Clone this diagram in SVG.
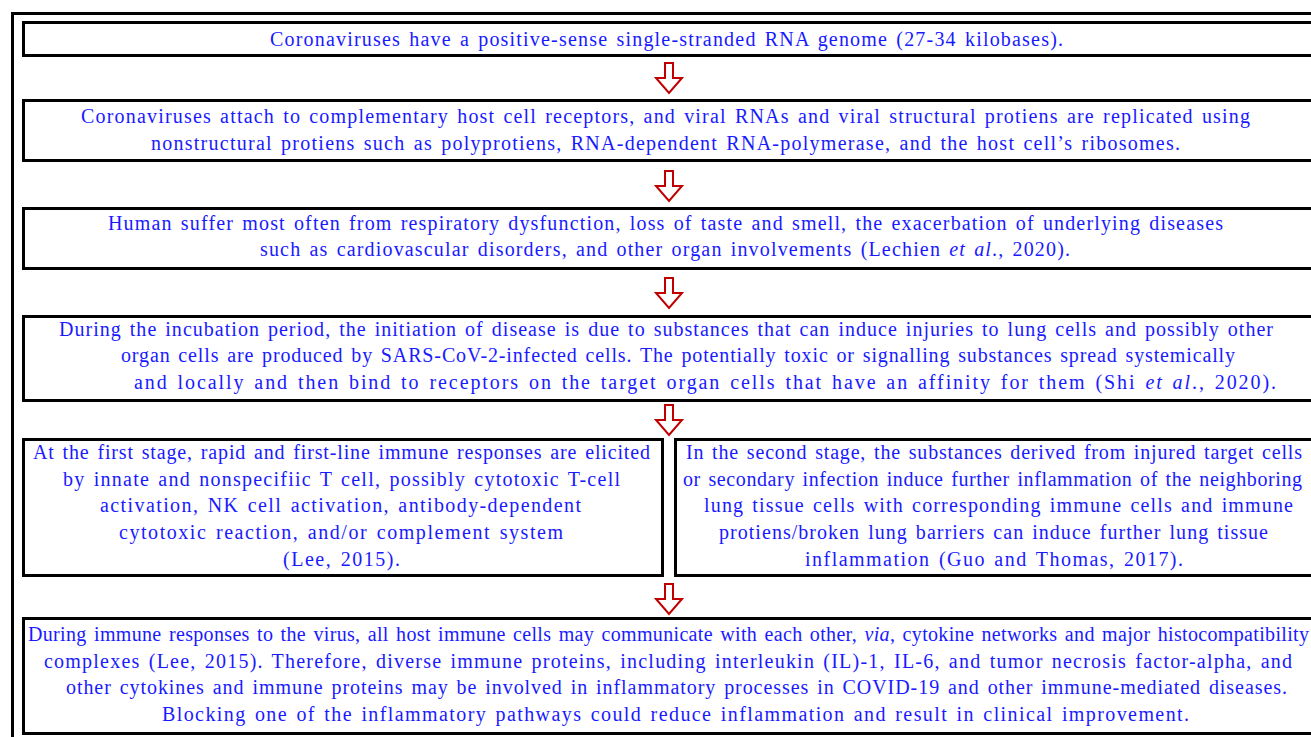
<svg xmlns="http://www.w3.org/2000/svg" width="1311" height="737" viewBox="0 0 1311 737">
<style>
.box{fill:#fff;stroke:#000;stroke-width:3}
.t{font-family:"Liberation Serif","Times New Roman",serif;font-size:20px;fill:#1a1aff;word-spacing:2px}
.i{font-style:italic}
.arr{fill:#fff;stroke:#c00000;stroke-width:2;stroke-linejoin:miter}
</style>
<defs>
<path id="dn" d="M-4,0 H4 V15 H13 L0,30 L-13,15 H-4 Z"/>
</defs>
<rect width="1311" height="737" fill="#fff"/>
<rect x="12.5" y="13.5" width="1320" height="740" fill="none" stroke="#000" stroke-width="3"/>
<g id="connectors">
<use href="#dn" x="669" y="63" class="arr"/>
<use href="#dn" x="669" y="171" class="arr"/>
<use href="#dn" x="669" y="278" class="arr"/>
<use href="#dn" x="669" y="405" class="arr"/>
<use href="#dn" x="669" y="584" class="arr"/>
</g>
<g id="n1">
<rect class="box" x="23.5" y="22.5" width="1300" height="33"/>
<text class="t" x="270" y="46" textLength="793" lengthAdjust="spacing">Coronaviruses have a positive-sense single-stranded RNA genome (27-34 kilobases).</text>
</g>
<g id="n2">
<rect class="box" x="23.5" y="100.5" width="1300" height="60"/>
<text class="t" x="81" y="123" textLength="1169" lengthAdjust="spacing">Coronaviruses attach to complementary host cell receptors, and viral RNAs and viral structural protiens are replicated using</text>
<text class="t" x="151" y="150" textLength="1029" lengthAdjust="spacing">nonstructural protiens such as polyprotiens, RNA-dependent RNA-polymerase, and the host cell’s ribosomes.</text>
</g>
<g id="n3">
<rect class="box" x="23.5" y="208.5" width="1300" height="60"/>
<text class="t" x="108" y="230" textLength="1115" lengthAdjust="spacing">Human suffer most often from respiratory dysfunction, loss of taste and smell, the exacerbation of underlying diseases</text>
<text class="t" x="260" y="256" textLength="810" lengthAdjust="spacing">such as cardiovascular disorders, and other organ involvements (Lechien <tspan class="i">et al</tspan>., 2020).</text>
</g>
<g id="n4">
<rect class="box" x="23.5" y="316.5" width="1300" height="84"/>
<text class="t" x="59" y="336" textLength="1214" lengthAdjust="spacing">During the incubation period, the initiation of disease is due to substances that can induce injuries to lung cells and possibly other</text>
<text class="t" x="121" y="362" textLength="1114" lengthAdjust="spacing">organ cells are produced by SARS-CoV-2-infected cells. The potentially toxic or signalling substances spread systemically</text>
<text class="t" x="134" y="389" textLength="1142" lengthAdjust="spacing">and locally and then bind to receptors on the target organ cells that have an affinity for them (Shi <tspan class="i">et al</tspan>., 2020).</text>
</g>
<g id="n5a">
<rect class="box" x="23.5" y="439.5" width="639" height="136"/>
<text class="t" x="33" y="459" textLength="617" lengthAdjust="spacing">At the first stage, rapid and first-line immune responses are elicited</text>
<text class="t" x="63" y="486" textLength="557" lengthAdjust="spacing">by innate and nonspecifiic T cell, possibly cytotoxic T-cell</text>
<text class="t" x="100" y="512" textLength="481" lengthAdjust="spacing">activation, NK cell activation, antibody-dependent</text>
<text class="t" x="119" y="539" textLength="444" lengthAdjust="spacing">cytotoxic reaction, and/or complement system</text>
<text class="t" x="283" y="566" textLength="117" lengthAdjust="spacing">(Lee, 2015).</text>
</g>
<g id="n5b">
<rect class="box" x="675.5" y="439.5" width="650" height="136"/>
<text class="t" x="686" y="459" textLength="616" lengthAdjust="spacing">In the second stage, the substances derived from injured target cells</text>
<text class="t" x="683" y="486" textLength="619" lengthAdjust="spacing">or secondary infection induce further inflammation of the neighboring</text>
<text class="t" x="704" y="512" textLength="589" lengthAdjust="spacing">lung tissue cells with corresponding immune cells and immune</text>
<text class="t" x="719" y="539" textLength="549" lengthAdjust="spacing">protiens/broken lung barriers can induce further lung tissue</text>
<text class="t" x="805" y="566" textLength="378" lengthAdjust="spacing">inflammation (Guo and Thomas, 2017).</text>
</g>
<g id="n6">
<rect class="box" x="23.5" y="618.5" width="1300" height="115"/>
<text class="t" x="28" y="641" textLength="1281" lengthAdjust="spacing">During immune responses to the virus, all host immune cells may communicate with each other, <tspan class="i">via</tspan>, cytokine networks and major histocompatibility</text>
<text class="t" x="44" y="668" textLength="1248" lengthAdjust="spacing">complexes (Lee, 2015). Therefore, diverse immune proteins, including interleukin (IL)-1, IL-6, and tumor necrosis factor-alpha, and</text>
<text class="t" x="66" y="694" textLength="1221" lengthAdjust="spacing">other cytokines and immune proteins may be involved in inflammatory processes in COVID-19 and other immune-mediated diseases.</text>
<text class="t" x="162" y="721" textLength="1027" lengthAdjust="spacing">Blocking one of the inflammatory pathways could reduce inflammation and result in clinical improvement.</text>
</g>
</svg>
